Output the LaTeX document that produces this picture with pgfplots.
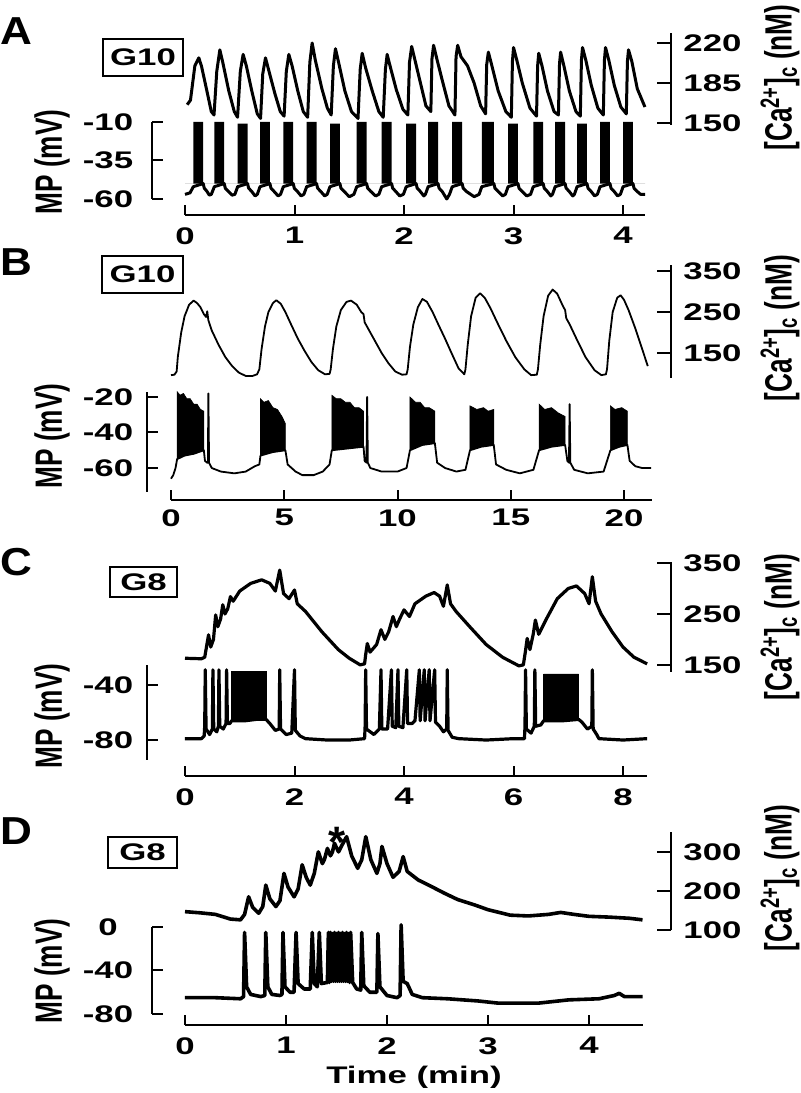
\documentclass[border=0pt]{standalone}
\usepackage{fontspec}
\usepackage{pgfplots}
\pgfplotsset{compat=1.18}
\setmainfont{Liberation Sans}
\newcommand\hs[1]{\scalebox{1.45}[1]{#1}}
\newcommand\tickf{\bfseries\fontsize{12}{14}\selectfont}
\newcommand\rotf{\bfseries\fontsize{19}{22}\selectfont}
\newcommand\letf{\bfseries\fontsize{19.5}{22}\selectfont}
\newcommand\rl[1]{\scalebox{0.69}[1]{#1}}
\pgfplotsset{
  base/.style={scale only axis, clip=false, anchor=south west,
    axis line style={line width=1pt,-},
    every tick/.style={black, line width=1pt}, tick align=inside,
    /pgf/number format/assume math mode=true, /pgf/number format/1000 sep={},
    tick label style={font=\tickf},
    xticklabel={\hs{\pgfmathprintnumber{\tick}}},
    yticklabel={\hs{\pgfmathprintnumber{\tick}}}},
  mp/.style={base, axis y line*=left, axis x line=none, xtick=\empty,
    major tick length=5.5pt, yticklabel style={anchor=center, inner sep=0pt, xshift=-#1}},
  ca/.style={base, axis y line*=right, axis x line=none, xtick=\empty,
    major tick length=7pt, yticklabel style={anchor=west, inner sep=0pt, xshift=6pt}},
  tm/.style={base, axis x line*=bottom, axis y line=none, ytick=\empty, height=5pt, ymin=0, ymax=1,
    major tick length=5pt, xticklabel style={anchor=north, inner sep=0pt, yshift=-#1}},
  tr/.style={black, mark=none, line width=#1, line join=round},
}
\tikzset{gbox/.style={draw, line width=1pt, inner sep=0pt, font=\tickf}}
\begin{document}
\begin{tikzpicture}
\useasboundingbox (0,0) rectangle (400pt,546.5pt);
% ================= Panel A =================
\begin{axis}[ca, at={(92.5pt,484pt)}, width=243pt, height=46pt, xmin=0, xmax=4.438, ymin=148.25, ymax=228.75, ytick={150,185,220}]
\addplot[tr=1.5pt] coordinates {
(0.02,166) (0.05,170) (0.09,200) (0.126,207) (0.15,200) (0.2,178) (0.24,160) (0.265,157)
(0.29,195) (0.318,214) (0.345,203) (0.4,178) (0.45,160) (0.48,155)
(0.505,195) (0.531,210) (0.56,200) (0.61,178) (0.66,158) (0.69,154)
(0.71,193) (0.735,207) (0.765,196) (0.82,176) (0.87,160) (0.905,156)
(0.925,195) (0.948,210) (0.978,200) (1.03,178) (1.08,160) (1.12,155)
(1.14,203) (1.161,220) (1.19,205) (1.25,180) (1.3,163) (1.335,157)
(1.355,200) (1.374,215) (1.405,202) (1.46,178) (1.52,160) (1.58,154)
(1.6,197) (1.618,211) (1.65,198) (1.71,178) (1.77,160) (1.81,155)
(1.83,197) (1.846,210) (1.875,199) (1.93,179) (1.99,162) (2.035,157)
(2.05,203) (2.07,217) (2.1,205) (2.15,185) (2.2,165) (2.245,160)
(2.255,206) (2.27,218) (2.3,206) (2.35,187) (2.41,165) (2.465,157)
(2.475,208) (2.49,218) (2.52,208) (2.58,200) (2.64,185) (2.7,165) (2.745,158)
(2.755,201) (2.77,212) (2.8,201) (2.86,178) (2.93,160) (2.98,155)
(2.99,204) (3.0,216) (3.03,205) (3.08,185) (3.15,163) (3.21,156)
(3.22,200) (3.23,211) (3.26,200) (3.31,178) (3.37,160) (3.41,157)
(3.42,202) (3.43,212) (3.46,200) (3.51,178) (3.57,160) (3.61,156)
(3.62,205) (3.63,216) (3.66,205) (3.71,183) (3.77,163) (3.82,157)
(3.83,205) (3.84,216) (3.87,205) (3.92,183) (3.98,164) (4.03,158)
(4.04,204) (4.05,214) (4.08,204) (4.13,180) (4.2,164)};
\end{axis}
\begin{axis}[mp=22pt, at={(76pt,447pt)}, width=246.5pt, height=38.5pt, xmin=-0.3014, xmax=4.2, ymin=-60, ymax=-10, ytick={-60,-35,-10}]
\addplot[fill=black, draw=none, mark=none] coordinates {
(0,-50)
(0.076,-50) (0.076,-10) (0.166,-10) (0.166,-50)
(0.268,-50) (0.268,-10) (0.358,-10) (0.358,-50)
(0.481,-50) (0.481,-11) (0.571,-11) (0.571,-50)
(0.685,-50) (0.685,-10) (0.775,-10) (0.775,-50)
(0.898,-50) (0.898,-10) (0.988,-10) (0.988,-50)
(1.111,-50) (1.111,-10) (1.201,-10) (1.201,-50)
(1.324,-50) (1.324,-11) (1.414,-11) (1.414,-50)
(1.568,-50) (1.568,-10) (1.658,-10) (1.658,-50)
(1.796,-50) (1.796,-10) (1.886,-10) (1.886,-50)
(2.02,-50) (2.02,-11) (2.11,-11) (2.11,-50)
(2.22,-50) (2.22,-10) (2.31,-10) (2.31,-50)
(2.44,-50) (2.44,-10) (2.53,-10) (2.53,-50)
(2.71,-50) (2.71,-10) (2.82,-10) (2.82,-50)
(2.95,-50) (2.95,-11) (3.04,-11) (3.04,-50)
(3.18,-50) (3.18,-10) (3.27,-10) (3.27,-50)
(3.38,-50) (3.38,-10) (3.47,-10) (3.47,-50)
(3.58,-50) (3.58,-11) (3.67,-11) (3.67,-50)
(3.79,-50) (3.79,-10) (3.88,-10) (3.88,-50)
(4.0,-50) (4.0,-10) (4.09,-10) (4.09,-50)
(4.2,-50)};
\addplot[tr=1.5pt] coordinates {
(0,-57) (0.046,-56) (0.076,-52) (0.166,-50) (0.176,-53) (0.2,-55) (0.222,-57.5)
(0.24,-57) (0.268,-52) (0.358,-50) (0.368,-53) (0.395,-55) (0.43,-57.5)
(0.455,-57) (0.481,-52) (0.571,-50) (0.581,-53) (0.608,-55) (0.64,-58)
(0.66,-57) (0.685,-52) (0.775,-50) (0.785,-53) (0.812,-55) (0.85,-58)
(0.872,-57) (0.898,-52) (0.988,-50) (0.998,-53) (1.025,-55) (1.06,-58)
(1.085,-57) (1.111,-52) (1.201,-50) (1.211,-53) (1.238,-55) (1.275,-58)
(1.298,-57) (1.324,-52) (1.414,-50) (1.424,-53) (1.451,-55) (1.5,-58.5)
(1.542,-57) (1.568,-52) (1.658,-50) (1.668,-53) (1.695,-55) (1.74,-58)
(1.77,-57) (1.796,-52) (1.886,-50) (1.896,-53) (1.923,-55) (1.96,-58)
(1.994,-57) (2.02,-52) (2.11,-50) (2.12,-53) (2.147,-55) (2.18,-58)
(2.195,-57) (2.22,-52) (2.31,-50) (2.32,-53) (2.347,-55) (2.39,-60)
(2.415,-57) (2.44,-52) (2.53,-50) (2.54,-53) (2.567,-55) (2.64,-58.5)
(2.685,-57) (2.71,-52) (2.82,-50) (2.83,-53) (2.857,-55) (2.9,-58)
(2.925,-57) (2.95,-52) (3.04,-50) (3.05,-53) (3.077,-55) (3.12,-58)
(3.155,-57) (3.18,-52) (3.27,-50) (3.28,-53) (3.307,-55) (3.34,-58)
(3.355,-57) (3.38,-52) (3.47,-50) (3.48,-53) (3.507,-55) (3.54,-58)
(3.555,-57) (3.58,-52) (3.67,-50) (3.68,-53) (3.707,-55) (3.74,-58)
(3.765,-57) (3.79,-52) (3.88,-50) (3.89,-53) (3.917,-55) (3.95,-58)
(3.975,-57) (4.0,-52) (4.09,-50) (4.1,-53) (4.127,-55) (4.16,-57) (4.2,-57)};
\end{axis}
\begin{axis}[tm=6pt, at={(92.5pt,439pt)}, width=230pt, xmin=0, xmax=4.2, xtick={0,1,2,3,4}]
\end{axis}
% ================= Panel B =================
\begin{axis}[ca, at={(85.5pt,357.5pt)}, width=250pt, height=56.5pt, xmin=0, xmax=22.075, ymin=89, ymax=365, ytick={150,250,350}]
\addplot[tr=0.9pt] coordinates {
(0,96) (0.15,97) (0.25,105) (0.3,140) (0.45,200) (0.6,240) (0.8,268) (1.0,278) (1.15,272) (1.3,262) (1.45,245) (1.55,238) (1.6,252) (1.65,230) (1.8,205) (2.1,170) (2.4,140) (2.7,118) (3.0,102) (3.3,94) (3.6,94) (3.8,98)
(3.9,110) (4.0,160) (4.15,215) (4.3,250) (4.5,272) (4.65,279) (4.85,270) (5.05,250) (5.3,220) (5.6,185) (5.9,155) (6.2,128) (6.5,108) (6.8,98) (7.0,99)
(7.05,110) (7.15,160) (7.3,215) (7.5,255) (7.75,275) (7.95,278) (8.2,268) (8.4,250) (8.5,245) (8.55,225) (8.7,210) (9.0,180) (9.3,150) (9.6,125) (9.9,105) (10.2,97) (10.4,98)
(10.45,110) (10.55,165) (10.7,220) (10.9,262) (11.1,282) (11.3,275) (11.55,250) (11.8,220) (12.1,185) (12.4,148) (12.7,112) (12.95,98)
(13.0,110) (13.1,170) (13.25,240) (13.45,285) (13.65,296) (13.85,285) (14.1,260) (14.4,225) (14.8,180) (15.2,140) (15.6,110) (15.9,96) (16.15,97)
(16.2,110) (16.3,170) (16.45,240) (16.65,290) (16.85,305) (17.05,295) (17.3,265) (17.4,255) (17.45,235) (17.6,220) (17.9,185) (18.3,140) (18.7,108) (19.0,96) (19.2,98)
(19.25,110) (19.35,180) (19.5,250) (19.7,285) (19.85,291) (20.0,280) (20.2,255) (20.5,210) (20.8,160) (21.05,118)};
\end{axis}
\begin{axis}[mp=19.5pt, at={(73.5pt,300.5pt)}, width=252.5pt, height=50pt, xmin=-1.0596, xmax=21.236, ymin=-73.5, ymax=-17.2, ytick={-60,-40,-20}]
\addplot[fill=black, draw=black, line width=0.3pt, mark=none] coordinates {(0.27,-55) (0.27,-17) (0.4,-19) (0.55,-18) (0.7,-21) (0.85,-21) (1.0,-24) (1.15,-24) (1.3,-27) (1.45,-28) (1.45,-50) (1.0,-52) (0.6,-53)};
\addplot[fill=black, draw=black, line width=0.3pt, mark=none] coordinates {(3.95,-53) (3.95,-21) (4.1,-23) (4.3,-22) (4.5,-26) (4.7,-27) (4.9,-31) (5.05,-35) (5.05,-50) (4.5,-51)};
\addplot[fill=black, draw=black, line width=0.3pt, mark=none] coordinates {(7.1,-50) (7.1,-19) (7.3,-21) (7.5,-21) (7.7,-23) (7.9,-23) (8.1,-26) (8.3,-26) (8.5,-28) (8.5,-48) (7.8,-49)};
\addplot[fill=black, draw=black, line width=0.3pt, mark=none] coordinates {(10.55,-50) (10.55,-20) (10.8,-23) (11.0,-23) (11.2,-26) (11.4,-26) (11.65,-28) (11.65,-46) (11.1,-47)};
\addplot[fill=black, draw=black, line width=0.3pt, mark=none] coordinates {(13.2,-50) (13.2,-25) (13.5,-27) (13.8,-26) (14.0,-28) (14.25,-27) (14.25,-47) (13.7,-48)};
\addplot[fill=black, draw=black, line width=0.3pt, mark=none] coordinates {(16.25,-50) (16.25,-24) (16.5,-27) (16.8,-26) (17.1,-29) (17.4,-31) (17.4,-47) (16.8,-48)};
\addplot[fill=black, draw=black, line width=0.3pt, mark=none] coordinates {(19.4,-50) (19.4,-25) (19.6,-27) (19.9,-26) (20.15,-28) (20.15,-47) (19.8,-48)};
\addplot[tr=0.9pt] coordinates {
(0,-66) (0.1,-64) (0.2,-60) (0.27,-55) (0.6,-53) (1.0,-52) (1.45,-50) (1.5,-56) (1.6,-57) (1.63,-57) (1.65,-18) (1.68,-57) (1.8,-60) (2.2,-62) (2.8,-63) (3.3,-62) (3.7,-59) (3.9,-58) (3.95,-53) (4.5,-51) (5.05,-50) (5.15,-58) (5.5,-62) (5.8,-64) (6.3,-64) (6.7,-62) (7.0,-58) (7.1,-50) (7.8,-49) (8.5,-48) (8.55,-56) (8.63,-57) (8.66,-20) (8.69,-57) (8.8,-60) (9.3,-62) (10.0,-62) (10.4,-60) (10.55,-50) (11.1,-47) (11.65,-46) (11.75,-57) (12.1,-60) (12.6,-62) (13.0,-61) (13.2,-50) (13.7,-48) (14.25,-47) (14.35,-58) (14.8,-61) (15.4,-63) (16.0,-61) (16.25,-50) (16.8,-48) (17.4,-47) (17.5,-56) (17.57,-57) (17.6,-24) (17.63,-57) (17.8,-61) (18.4,-63) (19.1,-62) (19.4,-50) (19.8,-48) (20.15,-47) (20.25,-56) (20.5,-59) (20.8,-60) (21.2,-60)};
\end{axis}
\begin{axis}[tm=4.5pt, at={(85.5pt,296.5pt)}, width=240.5pt, xmin=0, xmax=21.236, xtick={0,5,10,15,20}]
\end{axis}
% ================= Panel C =================
\begin{axis}[ca, at={(92.5pt,210.5pt)}, width=243pt, height=55pt, xmin=0, xmax=8.877, ymin=136, ymax=352, ytick={150,250,350}]
\addplot[tr=1.6pt] coordinates {
(0,163) (0.3,162) (0.36,165) (0.4,190) (0.43,209) (0.47,185) (0.52,200) (0.56,248) (0.6,225) (0.65,240) (0.69,268) (0.73,250) (0.78,260) (0.83,284) (0.88,275) (1.0,295) (1.2,310) (1.4,317) (1.55,310) (1.65,295) (1.73,336) (1.8,290) (1.9,280) (2.0,297) (2.05,270) (2.2,255) (2.5,215) (2.8,180) (3.0,163) (3.2,150) (3.28,152)
(3.3,170) (3.33,192) (3.38,175) (3.5,190) (3.58,219) (3.65,200) (3.72,215) (3.8,245) (3.86,225) (3.92,240) (4.0,258) (4.1,245) (4.2,270) (4.4,285) (4.55,292) (4.65,285) (4.72,265) (4.79,307) (4.85,270) (4.95,255) (5.2,225) (5.5,190) (5.8,165) (6.1,148) (6.18,150)
(6.22,178) (6.25,202) (6.3,180) (6.36,210) (6.4,238) (6.46,210) (6.6,240) (6.8,280) (7.0,300) (7.15,305) (7.3,290) (7.38,270) (7.44,323) (7.5,275) (7.6,250) (7.8,215) (8.0,185) (8.2,165) (8.44,152)};
\end{axis}
\begin{axis}[mp=19.5pt, at={(73.5pt,166.5pt)}, width=250pt, height=47.5pt, xmin=-0.694, xmax=8.438, ymin=-94.5, ymax=-25.5, ytick={-80,-40}]
\addplot[fill=black, draw=black, line width=0.3pt, mark=none] coordinates {(0.85,-66) (0.85,-30) (1.48,-30) (1.48,-65)};
\addplot[fill=black, draw=black, line width=0.3pt, mark=none] coordinates {(6.55,-66) (6.55,-32) (7.19,-32) (7.19,-65)};
\addplot[tr=1.6pt] coordinates {
(0,-79) (0.3,-79) (0.35,-77) (0.36,-70) (0.37,-29) (0.385,-72) (0.45,-76) (0.5,-72) (0.51,-29) (0.525,-72) (0.58,-74) (0.61,-70) (0.62,-29) (0.635,-70) (0.7,-72) (0.75,-68) (0.76,-29) (0.775,-68) (0.82,-68) (0.85,-66) (1.1,-66) (1.3,-65) (1.48,-65) (1.55,-68) (1.65,-73) (1.72,-72) (1.73,-29) (1.745,-72) (1.85,-76) (1.95,-75) (2.0,-29) (2.015,-73) (2.1,-77) (2.2,-79) (2.6,-80) (3.0,-80) (3.28,-79)
(3.29,-70) (3.3,-29) (3.315,-72) (3.45,-76) (3.55,-72) (3.58,-29) (3.595,-72) (3.7,-72) (3.77,-29) (3.785,-70) (3.85,-71) (3.89,-29) (3.905,-70) (3.98,-71) (4.05,-29) (4.065,-68) (4.15,-68) (4.2,-66) (4.28,-29) (4.295,-66) (4.37,-29) (4.385,-66) (4.46,-29) (4.475,-66) (4.56,-29) (4.575,-67) (4.65,-70) (4.72,-74) (4.78,-72) (4.79,-29) (4.805,-73) (4.88,-78) (5.0,-79) (5.5,-80) (6.0,-79) (6.2,-79)
(6.21,-70) (6.22,-29) (6.235,-72) (6.32,-75) (6.38,-70) (6.39,-29) (6.405,-70) (6.5,-69) (6.55,-66) (6.9,-66) (7.19,-65) (7.25,-67) (7.35,-72) (7.43,-70) (7.44,-29) (7.455,-72) (7.52,-76) (7.56,-79) (8.0,-80) (8.44,-79)};
\end{axis}
\begin{axis}[tm=6pt, at={(92.5pt,158.5pt)}, width=231pt, xmin=0, xmax=8.438, xtick={0,2,4,6,8}]
\end{axis}
% ================= Panel D =================
\begin{axis}[ca, at={(92.5pt,81.5pt)}, width=243pt, height=49pt, xmin=0, xmax=4.812, ymin=100, ymax=351, ytick={100,200,300}]
\addplot[tr=1.8pt] coordinates {
(0,147) (0.15,144) (0.3,140) (0.45,128) (0.55,126) (0.59,140) (0.63,185) (0.67,158) (0.73,143) (0.77,160) (0.8,215) (0.84,180) (0.9,160) (0.94,175) (0.98,245) (1.02,210) (1.08,185) (1.12,205) (1.16,267) (1.2,235) (1.24,215) (1.28,245) (1.32,300) (1.36,270) (1.38,280) (1.41,309) (1.44,290) (1.46,300) (1.48,322) (1.52,300) (1.56,320) (1.6,339) (1.65,290) (1.71,258) (1.75,280) (1.79,339) (1.84,280) (1.9,245) (1.93,270) (1.95,314) (2.0,270) (2.06,235) (2.12,250) (2.16,288) (2.2,250) (2.31,228) (2.45,210) (2.57,194) (2.7,178) (2.87,164) (3.0,152) (3.22,138) (3.4,136) (3.6,140) (3.72,145) (3.85,140) (4.0,135) (4.2,133) (4.4,130) (4.53,126)};
\node[font=\bfseries\fontsize{22}{24}\selectfont, anchor=base, inner sep=0pt] at (axis cs:1.51,286) {*};
\end{axis}
\begin{axis}[mp=22pt, at={(76pt,39.5pt)}, width=245.5pt, height=43.5pt, xmin=-0.3267, xmax=4.535, ymin=-80, ymax=0, ytick={-80,-40,0}]
\addplot[tr=1.8pt] coordinates {
(0,-65) (0.3,-65) (0.55,-66) (0.58,-64) (0.59,-5) (0.61,-55) (0.65,-62) (0.75,-64) (0.79,-63) (0.8,-5) (0.82,-55) (0.86,-62) (0.94,-63) (0.96,-62) (0.97,-5) (0.99,-55) (1.04,-60) (1.08,-60) (1.1,-5) (1.12,-52) (1.18,-57) (1.24,-57) (1.26,-5) (1.28,-52) (1.31,-55) (1.33,-5) (1.35,-52) (1.41,-51)
(1.42,-5) (1.43,-51) (1.44,-5) (1.45,-50) (1.46,-6) (1.47,-50) (1.48,-5) (1.49,-50) (1.5,-6) (1.51,-50) (1.52,-5) (1.53,-50) (1.54,-6) (1.55,-50) (1.56,-5) (1.57,-50) (1.58,-6) (1.59,-50) (1.6,-5) (1.61,-50) (1.62,-6) (1.63,-51) (1.64,-5) (1.66,-51)
(1.7,-57) (1.74,-58) (1.75,-5) (1.77,-54) (1.83,-60) (1.9,-60) (1.91,-6) (1.93,-55) (2.0,-63) (2.1,-65) (2.13,-63) (2.14,2) (2.16,-50) (2.2,-52) (2.25,-62) (2.35,-65) (2.6,-66) (2.9,-68) (3.1,-70) (3.5,-70) (3.8,-67) (4.1,-66) (4.25,-63) (4.3,-61) (4.35,-64) (4.45,-64) (4.53,-64)};
\end{axis}
\begin{axis}[tm=6pt, at={(92.5pt,34pt)}, width=229pt, xmin=0, xmax=4.535, xtick={0,1,2,3,4}]
\end{axis}
% ================= Labels =================
\node[font=\letf, inner sep=0pt] at (8pt,531pt) {\scalebox{1.13}[1]{A}};
\node[font=\letf, inner sep=0pt] at (8pt,415.5pt) {\scalebox{1.13}[1]{B}};
\node[font=\letf, inner sep=0pt] at (8pt,265.25pt) {\scalebox{1.13}[1]{C}};
\node[font=\letf, inner sep=0pt] at (8pt,131pt) {\scalebox{1.13}[1]{D}};
\node[gbox, minimum width=40pt, minimum height=18.5pt] at (71.5pt,517.75pt) {\hs{G10}};
\node[gbox, minimum width=40.5pt, minimum height=18.5pt] at (71.25pt,409.25pt) {\hs{G10}};
\node[gbox, minimum width=33.5pt, minimum height=15pt] at (71.75pt,255.5pt) {\hs{G8}};
\node[gbox, minimum width=34.5pt, minimum height=15.5pt] at (71.25pt,120.25pt) {\hs{G8}};
\node[font=\rotf, rotate=90, inner sep=0pt] at (26pt,465.5pt) {\rl{MP (mV)}};
\node[font=\rotf, rotate=90, inner sep=0pt] at (26pt,328.5pt) {\rl{MP (mV)}};
\node[font=\rotf, rotate=90, inner sep=0pt] at (26pt,188.5pt) {\rl{MP (mV)}};
\node[font=\rotf, rotate=90, inner sep=0pt] at (26pt,61pt) {\rl{MP (mV)}};
\node[font=\rotf, rotate=90, inner sep=0pt] at (390pt,507.75pt) {\rl{[Ca\textsuperscript{2+}]\textsubscript{c} (nM)}};
\node[font=\rotf, rotate=90, inner sep=0pt] at (390pt,382.5pt) {\rl{[Ca\textsuperscript{2+}]\textsubscript{c} (nM)}};
\node[font=\rotf, rotate=90, inner sep=0pt] at (390pt,233pt) {\rl{[Ca\textsuperscript{2+}]\textsubscript{c} (nM)}};
\node[font=\rotf, rotate=90, inner sep=0pt] at (390pt,107.5pt) {\rl{[Ca\textsuperscript{2+}]\textsubscript{c} (nM)}};
\node[font=\tickf, anchor=base, inner sep=0pt] at (207pt,5pt) {\hs{Time (min)}};
\end{tikzpicture}
\end{document}
